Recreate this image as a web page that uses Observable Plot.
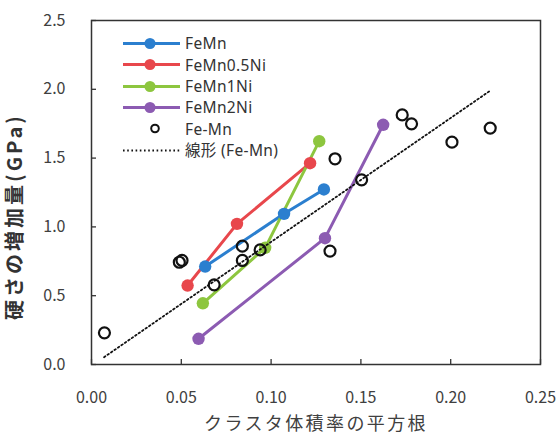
<!DOCTYPE html>
<html><head><meta charset="utf-8">
<script src="https://cdn.jsdelivr.net/npm/d3@7"></script>
<script src="https://cdn.jsdelivr.net/npm/@observablehq/plot@0.6"></script>
<style>
body{margin:0;background:#fff;}
#wrap{position:relative;width:557px;height:438px;font-family:"Noto Sans CJK JP","Noto Sans",sans-serif;}
#legend{position:absolute;left:118px;top:32.6px;}
.row{display:flex;align-items:center;height:21.4px;font-size:15.5px;letter-spacing:0.35px;color:#333;white-space:nowrap;font-family:"Noto Sans","Noto Sans CJK JP",sans-serif;}
.row svg{flex:none;}
.row span{display:block;line-height:18px;height:18px;}
</style></head><body><div id="wrap"></div>
<script>
// ---- data ----
const seriesNames = ["FeMn", "FeMn0.5Ni", "FeMn1Ni", "FeMn2Ni"];
const seriesColors = ["#2b7fcf", "#e8474c", "#8dc63f", "#8c5bb2"];
const feMnX = [0.0633, 0.1072, 0.1294];
const feMnY = [0.712, 1.095, 1.272];
const ni05X = [0.0535, 0.081, 0.1217];
const ni05Y = [0.574, 1.022, 1.463];
const ni1X = [0.062, 0.0967, 0.1268];
const ni1Y = [0.445, 0.848, 1.623];
const ni2X = [0.0596, 0.130, 0.1624];
const ni2Y = [0.187, 0.918, 1.742];
const refName = "Fe-Mn";
const refX = [0.0072, 0.0489, 0.0504, 0.0683, 0.084, 0.084, 0.0939, 0.1328, 0.1356, 0.1504, 0.173, 0.1782, 0.2007, 0.222];
const refY = [0.23, 0.743, 0.756, 0.579, 0.86, 0.756, 0.833, 0.824, 1.495, 1.342, 1.814, 1.749, 1.616, 1.718];
const trendName = "線形 (Fe-Mn)";
const trendX = [0.007, 0.222];
const trendY = [0.053, 1.99];
const xTicks = [0, 0.05, 0.10, 0.15, 0.20, 0.25];
const yTicks = [0, 0.5, 1.0, 1.5, 2.0, 2.5];
const xTitle = "クラスタ体積率の平方根";
const yTitle = "硬さの増加量(GPa)";

// ---- build ----
const seriesX = [feMnX, ni05X, ni1X, ni2X];
const seriesY = [feMnY, ni05Y, ni1Y, ni2Y];
const lineData = seriesNames.flatMap((name, s) => seriesX[s].map((x, i) => ({series: name, x, y: seriesY[s][i]})));
const refData = refX.map((x, i) => ({x, y: refY[i]}));
const trendData = trendX.map((x, i) => ({x, y: trendY[i]}));
const font = '"Noto Sans CJK JP","Noto Sans",sans-serif';
const tickColor = "#404040";

const chart = Plot.plot({
  width: 557, height: 438,
  marginLeft: 91, marginRight: 17, marginTop: 20, marginBottom: 74,
  style: {fontFamily: font, background: "#fff", overflow: "visible"},
  x: {domain: [0, 0.25]},
  y: {domain: [0, 2.5]},
  color: {domain: seriesNames, range: seriesColors},
  marks: [
    Plot.axisX(xTicks, {tickSize: -5, tickFormat: () => "", stroke: "#333", strokeWidth: 1.3, label: null}),
    Plot.axisX(xTicks, {tickSize: 0, tickPadding: 27, tickFormat: d3.format(".2f"), fontSize: 16, fill: tickColor, label: null}),
    Plot.axisY(yTicks, {tickSize: -5, tickFormat: () => "", stroke: "#333", strokeWidth: 1.3, label: null}),
    Plot.axisY(yTicks, {tickSize: 0, tickPadding: 26, tickFormat: d3.format(".1f"), fontSize: 16, fill: tickColor, label: null}),
    Plot.line(lineData, {x: "x", y: "y", z: "series", stroke: "series", strokeWidth: 3}),
    Plot.dot(lineData, {x: "x", y: "y", fill: "series", r: 6.2}),
    Plot.dot(refData, {x: "x", y: "y", r: 5.5, stroke: "#111", strokeWidth: 2.2, fill: "none"}),
    Plot.line(trendData, {x: "x", y: "y", stroke: "#111", strokeWidth: 1.8, strokeDasharray: "1.6,2.6"}),
    Plot.frame({stroke: "#333", strokeWidth: 1.5}),
    Plot.text([xTitle], {frameAnchor: "bottom", lineAnchor: "middle", textAnchor: "middle", dy: 60, fontSize: 18, fill: tickColor, className: "xtitle"}),
    Plot.text([yTitle], {frameAnchor: "left", textAnchor: "middle", lineAnchor: "middle", dx: -76, dy: 24, rotate: -90, fontSize: 20, fontWeight: "bold", fill: "#333", className: "ytitle"})
  ]
});
const wrap = document.getElementById("wrap");
wrap.appendChild(chart);
d3.select(chart).selectAll(".xtitle text").style("letter-spacing", "2.4px");
d3.select(chart).selectAll(".ytitle text").style("letter-spacing", "3px");

// ---- legend (inside plot, top-left) ----
const legend = document.createElement("div");
legend.id = "legend";
function row(drawFn, label) {
  const r = document.createElement("div");
  r.className = "row";
  const svg = d3.create("svg").attr("width", 67).attr("height", 21);
  drawFn(svg);
  r.appendChild(svg.node());
  const t = document.createElement("span");
  t.textContent = label;
  r.appendChild(t);
  legend.appendChild(r);
}
seriesNames.forEach((name, i) => row(svg => {
  svg.append("line").attr("x1", 5).attr("x2", 62).attr("y1", 10.5).attr("y2", 10.5).attr("stroke", seriesColors[i]).attr("stroke-width", 3);
  svg.append("circle").attr("cx", 32).attr("cy", 10.5).attr("r", 5.5).attr("fill", seriesColors[i]);
}, name));
row(svg => {
  svg.append("circle").attr("cx", 37).attr("cy", 10.5).attr("r", 3.8).attr("fill", "none").attr("stroke", "#111").attr("stroke-width", 2);
}, refName);
row(svg => {
  svg.append("line").attr("x1", 5).attr("x2", 62).attr("y1", 10.5).attr("y2", 10.5).attr("stroke", "#111").attr("stroke-width", 1.8).attr("stroke-dasharray", "1.6,2.6");
}, trendName);
wrap.appendChild(legend);
</script>
</body></html>
